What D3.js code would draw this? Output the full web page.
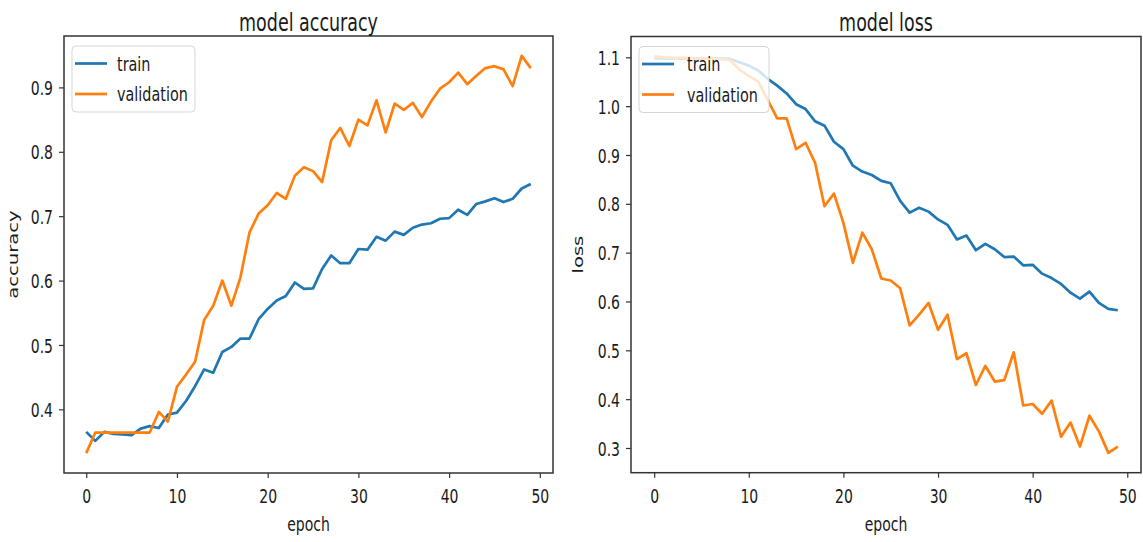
<!DOCTYPE html>
<html>
<head>
<meta charset="utf-8">
<script src="https://cdn.jsdelivr.net/npm/d3@7"></script>
<style>
  body { margin: 0; background: #fff; }
  svg { display: block; }
  text { font-family: "DejaVu Sans", sans-serif; fill: #1a1a1a; }
</style>
</head>
<body>
<svg id="chart" width="1143" height="542"></svg>
<script>
// epochs 0..49
const epochs = d3.range(50);
const xTicks = [0, 10, 20, 30, 40, 50];

const accTrain = [0.365, 0.351, 0.365, 0.362, 0.361, 0.360, 0.370, 0.374, 0.371, 0.392,
  0.395, 0.413, 0.436, 0.462, 0.457, 0.489, 0.497, 0.510, 0.510, 0.540,
  0.556, 0.569, 0.576, 0.597, 0.587, 0.588, 0.618, 0.639, 0.627, 0.627,
  0.649, 0.648, 0.668, 0.662, 0.676, 0.671, 0.682, 0.687, 0.689, 0.696,
  0.697, 0.710, 0.702, 0.719, 0.723, 0.728, 0.722, 0.727, 0.743, 0.750];
const accVal = [0.332, 0.364, 0.364, 0.364, 0.364, 0.364, 0.364, 0.364, 0.396, 0.381,
  0.435, 0.454, 0.474, 0.539, 0.561, 0.600, 0.561, 0.605, 0.675, 0.704,
  0.717, 0.736, 0.727, 0.763, 0.776, 0.770, 0.753, 0.818, 0.837, 0.809,
  0.850, 0.841, 0.880, 0.830, 0.875, 0.865, 0.876, 0.854, 0.878, 0.898,
  0.908, 0.923, 0.905, 0.918, 0.930, 0.933, 0.928, 0.902, 0.949, 0.930];

const lossTrain = [1.098, 1.098, 1.098, 1.097, 1.097, 1.097, 1.097, 1.098, 1.097, 1.090,
  1.083, 1.073, 1.056, 1.042, 1.026, 1.004, 0.994, 0.969, 0.960, 0.927,
  0.912, 0.878, 0.866, 0.859, 0.847, 0.842, 0.806, 0.782, 0.792, 0.784,
  0.768, 0.757, 0.727, 0.735, 0.705, 0.718, 0.707, 0.691, 0.692, 0.674,
  0.675, 0.657, 0.648, 0.636, 0.618, 0.606, 0.620, 0.597, 0.585, 0.582];
const lossVal = [1.102, 1.100, 1.099, 1.099, 1.098, 1.098, 1.097, 1.096, 1.095, 1.075,
  1.062, 1.050, 1.013, 0.975, 0.975, 0.912, 0.925, 0.884, 0.795, 0.821,
  0.761, 0.679, 0.741, 0.707, 0.647, 0.643, 0.627, 0.551, 0.573, 0.597,
  0.542, 0.573, 0.482, 0.494, 0.429, 0.468, 0.436, 0.439, 0.496, 0.387,
  0.390, 0.370, 0.397, 0.323, 0.352, 0.303, 0.366, 0.334, 0.290, 0.303];

const accTicks = [0.4, 0.5, 0.6, 0.7, 0.8, 0.9];
const lossTicks = [0.3, 0.4, 0.5, 0.6, 0.7, 0.8, 0.9, 1.0, 1.1];

const seriesNames = ["train", "validation"];
const colors = ["#1f77b4", "#ff7f0e"];

// the picture is stretched vertically, so text is too
const SY = 1.4;

const panels = [
  {title: "model accuracy", ylabel: "accuracy", train: accTrain, val: accVal, ticks: accTicks,
   x0: 64, x1: 553, y0: 36, y1: 473, tickFmt: d3.format(".1f"), legW: 123, legText: 53, ylabX: 18},
  {title: "model loss", ylabel: "loss", train: lossTrain, val: lossVal, ticks: lossTicks,
   x0: 631, x1: 1141, y0: 36.5, y1: 472.7, tickFmt: d3.format(".1f"), legW: 130, legText: 56, ylabX: 583}
];

const svg = d3.select("#chart");

function stretchText(parent, x, y, str, size, anchor, rot) {
  return parent.append("text")
    .attr("transform", `translate(${x},${y}) scale(1,${SY})` + (rot ? ` rotate(${rot})` : ""))
    .attr("text-anchor", anchor)
    .style("font-size", size + "px")
    .text(str);
}

panels.forEach(p => {
  const all = p.train.concat(p.val);
  const lo = d3.min(all), hi = d3.max(all);
  const pad = (hi - lo) * 0.05;

  const x = d3.scaleLinear().domain([-49 * 0.05, 49 * 1.05]).range([p.x0, p.x1]);
  const y = d3.scaleLinear().domain([lo - pad, hi + pad]).range([p.y1, p.y0]);

  const g = svg.append("g");

  // lines
  const line = d3.line().x((d, i) => x(epochs[i])).y(d => y(d));
  [p.train, p.val].forEach((s, k) => {
    g.append("path")
      .datum(s)
      .attr("fill", "none")
      .attr("stroke", colors[k])
      .attr("stroke-width", 2.7)
      .attr("stroke-linejoin", "round")
      .attr("d", line);
  });

  // axes
  const yAxis = g.append("g")
    .attr("transform", `translate(${p.x0},0)`)
    .call(d3.axisLeft(y).tickValues(p.ticks).tickFormat(p.tickFmt).tickSize(5).tickPadding(6));
  const xAxis = g.append("g")
    .attr("transform", `translate(0,${p.y1})`)
    .call(d3.axisBottom(x).tickValues(xTicks).tickSize(5));

  [xAxis, yAxis].forEach(a => {
    a.select(".domain").remove();
    a.selectAll(".tick line").attr("stroke", "#333").attr("stroke-width", 1.2);
    a.selectAll(".tick text").style("font-size", "14px").attr("font-family", null)
      .attr("transform", `scale(1,${SY})`);
  });
  yAxis.selectAll(".tick text").attr("dy", "0.36em");
  xAxis.selectAll(".tick text").attr("dy", 0).attr("y", 30 / SY);

  // frame
  g.append("rect")
    .attr("x", p.x0).attr("y", p.y0)
    .attr("width", p.x1 - p.x0).attr("height", p.y1 - p.y0)
    .attr("fill", "none")
    .attr("stroke", "#333")
    .attr("stroke-width", 1.5);

  // titles and labels
  stretchText(g, (p.x0 + p.x1) / 2, 31, p.title, 17.5, "middle");
  stretchText(g, (p.x0 + p.x1) / 2, 531, "epoch", 14, "middle");
  stretchText(g, p.ylabX, (p.y0 + p.y1) / 2, p.ylabel, 14, "middle", -90);

  // legend
  const lg = g.append("g").attr("transform", `translate(${p.x0 + 8},${p.y0 + 10})`);
  lg.append("rect")
    .attr("width", p.legW).attr("height", 66)
    .attr("rx", 4)
    .attr("fill", "#fff").attr("fill-opacity", 0.8)
    .attr("stroke", "#ccc").attr("stroke-opacity", 0.8);
  seriesNames.forEach((name, k) => {
    const ly = 17.5 + k * 30.5;
    lg.append("line")
      .attr("x1", 3).attr("x2", 35)
      .attr("y1", ly).attr("y2", ly)
      .attr("stroke", colors[k]).attr("stroke-width", 2.7);
    stretchText(lg, p.legText - 8, ly + 7, name, 14.4, "start");
  });
});
</script>
</body>
</html>
